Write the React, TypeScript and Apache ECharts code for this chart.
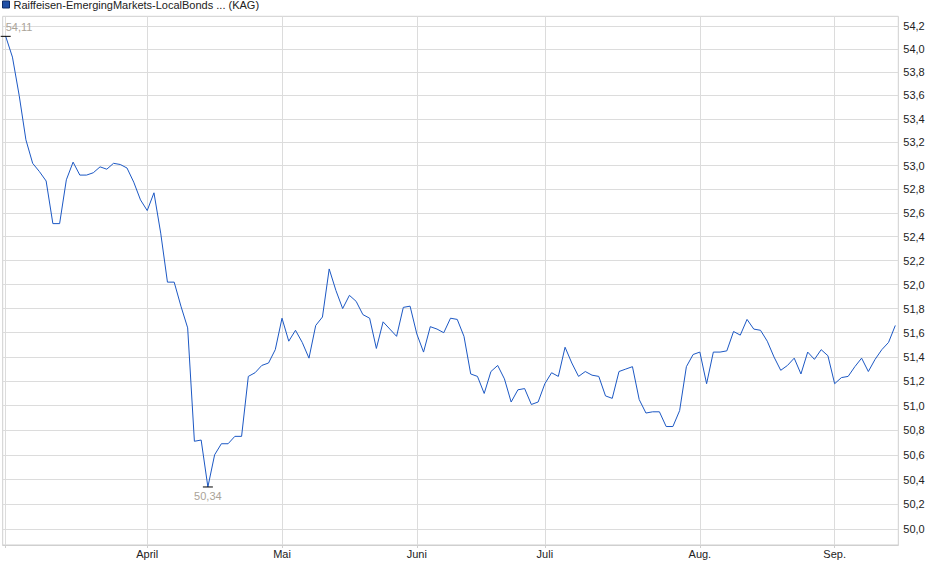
import React, { useEffect, useRef } from 'react';
import * as echarts from 'echarts';

const SERIES_NAME = 'Raiffeisen-EmergingMarkets-LocalBonds ... (KAG)';

// trading calendar (categories)
const START_DATE = '2025-03-03';
const END_DATE = '2025-09-12';
const HOLIDAYS = ['2025-04-18', '2025-04-21', '2025-05-01', '2025-05-29', '2025-06-09', '2025-06-19', '2025-08-15'];
const MONTH_LABELS = ['Jan.', 'Feb.', 'März', 'April', 'Mai', 'Juni', 'Juli', 'Aug.', 'Sep.', 'Okt.', 'Nov.', 'Dez.'];

// y tick labels
const Y_TICKS = [50.0, 50.2, 50.4, 50.6, 50.8, 51.0, 51.2, 51.4, 51.6, 51.8, 52.0, 52.2, 52.4, 52.6, 52.8, 53.0, 53.2, 53.4, 53.6, 53.8, 54.0, 54.2];
const Y_MIN = 49.874;
const Y_MAX = 54.284;

// daily prices (one per trading day)
const PRICES_MAR = [54.11, 53.93, 53.60, 53.22, 53.02, 52.95, 52.87, 52.51, 52.51, 52.88, 53.03, 52.92, 52.92, 52.94, 52.99, 52.97, 53.02, 53.01, 52.98, 52.86, 52.71];
const PRICES_APR = [52.62, 52.77, 52.43, 52.02, 52.02, 51.82, 51.64, 50.71, 50.72, 50.34, 50.60, 50.69, 50.69, 50.75, 50.75, 51.24, 51.27, 51.33, 51.35, 51.46];
const PRICES_MAY = [51.72, 51.53, 51.62, 51.52, 51.39, 51.66, 51.73, 52.13, 51.95, 51.80, 51.91, 51.86, 51.75, 51.72, 51.47, 51.69, 51.63, 51.57, 51.81, 51.82];
const PRICES_JUN = [51.59, 51.44, 51.65, 51.63, 51.60, 51.72, 51.71, 51.57, 51.26, 51.24, 51.10, 51.28, 51.33, 51.22, 51.03, 51.13, 51.14, 51.01, 51.03];
const PRICES_JUL = [51.18, 51.27, 51.24, 51.48, 51.35, 51.24, 51.28, 51.25, 51.24, 51.08, 51.06, 51.28, 51.30, 51.32, 51.05, 50.94, 50.95, 50.95, 50.83, 50.83, 50.96, 51.32, 51.42];
const PRICES_AUG = [51.44, 51.18, 51.44, 51.44, 51.45, 51.61, 51.58, 51.71, 51.63, 51.62, 51.53, 51.40, 51.29, 51.33, 51.39, 51.26, 51.44, 51.38, 51.46, 51.41];
const PRICES_SEP = [51.18, 51.23, 51.24, 51.32, 51.39, 51.28, 51.38, 51.46, 51.52, 51.66];

const PRICES = [...PRICES_MAR, ...PRICES_APR, ...PRICES_MAY, ...PRICES_JUN, ...PRICES_JUL, ...PRICES_AUG, ...PRICES_SEP];

function tradingDays(start: string, end: string, holidays: string[]): string[] {
  const out: string[] = [];
  const s = new Date(start + 'T00:00:00Z');
  const e = new Date(end + 'T00:00:00Z');
  for (let d = new Date(s); d <= e; d.setUTCDate(d.getUTCDate() + 1)) {
    const wd = d.getUTCDay();
    const iso = d.toISOString().slice(0, 10);
    if (wd === 0 || wd === 6 || holidays.includes(iso)) continue;
    out.push(iso);
  }
  return out;
}

const DATES = tradingDays(START_DATE, END_DATE, HOLIDAYS);

const FONT = "'Liberation Sans', Arial, Helvetica, sans-serif";
const fmt = (v: number, d: number) => v.toFixed(d).replace('.', ',');

export default function App() {
  const ref = useRef<HTMLDivElement>(null);

  useEffect(() => {
    if (!ref.current) return;
    const chart = echarts.init(ref.current, undefined, { renderer: 'svg' });

    const monthStarts: number[] = [];
    DATES.forEach((d, i) => {
      if (i === 0 || d.slice(5, 7) !== DATES[i - 1].slice(5, 7)) monthStarts.push(i);
    });
    const labelIdx = monthStarts.filter((i) => i > 0);
    const monthName = (i: number) => MONTH_LABELS[parseInt(DATES[Math.round(i)].slice(5, 7), 10) - 1];

    const data = PRICES.map((v, i) => [i, Math.log(v)]);
    const n = PRICES.length - 1;
    const pad = 0.445;

    chart.setOption({
      animation: false,
      backgroundColor: '#ffffff',
      textStyle: { fontFamily: FONT },
      legend: {
        show: true,
        left: 2,
        top: -1,
        padding: 0,
        icon: 'rect',
        itemWidth: 7,
        itemHeight: 7,
        itemGap: 10,
        itemStyle: { color: '#1f4fa6', borderColor: '#0f2c66', borderWidth: 1 },
        textStyle: { fontSize: 11, color: '#222', fontFamily: FONT, padding: [0, 0, 0, -1] },
        data: [SERIES_NAME],
      },
      grid: {
        left: 2.7,
        top: 16.3,
        width: 895.6,
        height: 528.7,
        show: true,
        borderColor: '#cfcfcf',
        borderWidth: 1,
        backgroundColor: 'transparent',
        containLabel: false,
        outerBoundsMode: 'none',
      },
      xAxis: {
        type: 'value',
        min: -pad,
        max: n + pad,
        axisLine: { show: true, lineStyle: { color: '#cfcfcf', width: 1 } },
        axisTick: { show: true, length: 3, lineStyle: { color: '#cfcfcf' }, customValues: monthStarts },
        axisLabel: {
          show: true,
          customValues: labelIdx,
          formatter: (v: number) => monthName(v),
          color: '#222',
          fontSize: 11,
          fontFamily: FONT,
          margin: 3,
        },
        splitLine: { show: true, lineStyle: { color: '#dcdcdc', width: 1 } },
      },
      yAxis: {
        type: 'value',
        position: 'right',
        min: Math.log(Y_MIN),
        max: Math.log(Y_MAX),
        axisLine: { show: false },
        axisTick: { show: false, customValues: Y_TICKS.map((t) => Math.log(t)) },
        axisLabel: {
          show: true,
          customValues: Y_TICKS.map((t) => Math.log(t)),
          formatter: (v: number) => fmt(Math.exp(v), 1),
          color: '#222',
          fontSize: 11,
          fontFamily: FONT,
          margin: 5,
        },
        splitLine: { show: true, lineStyle: { color: '#dcdcdc', width: 1 } },
      },
      series: [
        {
          name: SERIES_NAME,
          type: 'line',
          data,
          showSymbol: false,
          symbol: 'none',
          color: '#1f4fa6',
          lineStyle: { color: '#1c58c4', width: 1 },
          markPoint: {
            symbol: 'rect',
            symbolSize: [10, 1],
            itemStyle: { color: '#000' },
            data: [
              {
                type: 'max',
                label: {
                  show: true,
                  position: [5, -14],
                  color: '#aaa398',
                  fontSize: 11,
                  fontFamily: FONT,
                  formatter: (p: any) => fmt(Math.exp(Array.isArray(p.value) ? p.value[1] : p.value), 2),
                },
              },
              {
                type: 'min',
                label: {
                  show: true,
                  position: 'bottom',
                  distance: 3,
                  color: '#aaa398',
                  fontSize: 11,
                  fontFamily: FONT,
                  formatter: (p: any) => fmt(Math.exp(Array.isArray(p.value) ? p.value[1] : p.value), 2),
                },
              },
            ],
          },
        },
      ],
    });

    return () => chart.dispose();
  }, []);

  return <div ref={ref} style={{ position: 'absolute', left: 0, top: 0, width: 940, height: 579 }} />;
}
